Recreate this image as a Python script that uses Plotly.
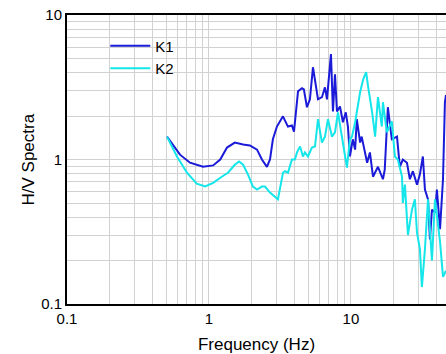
import plotly.graph_objects as go

# K1 (blue) H/V spectral ratio
k1_freq = [0.506, 0.625, 0.735, 0.908, 1.07, 1.20, 1.34, 1.52, 1.74, 1.94, 2.18, 2.36, 2.56, 2.69,
           2.82, 3.01, 3.32, 3.60, 3.84, 3.97, 4.24, 4.52, 4.66, 4.90, 5.14, 5.40, 5.67, 5.86,
           6.25, 6.56, 6.78, 7.23, 7.47, 7.72, 7.97, 8.37, 8.78, 9.20, 9.52, 9.84, 10.3, 10.7,
           11.0, 11.6, 11.9, 13.0, 13.6, 14.3, 15.5, 16.8, 17.3, 18.2, 19.4, 21.1, 22.1, 23.2,
           24.8, 26.0, 27.3, 29.2, 30.6, 32.1, 33.2, 34.9, 36.0, 37.2, 39.1, 40.3, 42.4, 44.5,
           45.9, 46.7]
k1_hv = [1.44, 1.08, 0.95, 0.89, 0.91, 1.00, 1.21, 1.31, 1.27, 1.25, 1.17, 1.00, 0.89, 1.00,
         1.38, 1.69, 1.99, 1.69, 1.72, 1.56, 2.97, 3.11, 3.06, 2.30, 2.61, 4.35, 3.21, 2.61,
         2.70, 3.16, 2.61, 5.36, 2.15, 3.89, 2.15, 2.33, 1.81, 2.12, 1.69, 1.05, 1.38, 1.17,
         1.90, 1.31, 1.44, 0.95, 1.12, 0.76, 0.89, 0.73, 0.85, 2.30, 1.38, 1.44, 0.89, 1.00,
         0.95, 0.73, 0.83, 0.67, 0.79, 1.05, 0.62, 0.53, 0.28, 0.45, 0.43, 0.62, 0.33, 0.73,
         2.49, 2.80]

# K2 (cyan) H/V spectral ratio
k2_freq = [0.506, 0.595, 0.70, 0.82, 0.94, 1.07, 1.23, 1.36, 1.52, 1.63, 1.74, 1.88, 2.04, 2.18,
           2.36, 2.48, 2.69, 2.92, 3.06, 3.32, 3.43, 3.60, 3.84, 4.03, 4.17, 4.38, 4.59, 4.74,
           4.98, 5.31, 5.58, 5.86, 6.25, 6.56, 6.89, 7.35, 7.72, 8.10, 8.64, 9.07, 9.37, 9.84,
           10.17, 10.7, 11.0, 11.6, 12.2, 12.8, 13.2, 14.1, 14.8, 15.5, 16.5, 16.8, 17.9, 19.4,
           20.4, 21.4, 22.9, 23.2, 24.0, 25.2, 26.9, 28.2, 29.2, 30.6, 31.6, 33.2, 34.9, 37.2,
           39.1, 42.4, 44.5, 46.7]
k2_hv = [1.44, 1.05, 0.81, 0.68, 0.65, 0.69, 0.76, 0.81, 0.92, 0.97, 0.92, 0.79, 0.65, 0.62,
         0.65, 0.65, 0.59, 0.55, 0.53, 0.81, 0.83, 0.81, 1.00, 1.00, 1.12, 1.23, 1.05, 1.12,
         1.05, 1.21, 1.23, 1.90, 1.31, 1.44, 1.90, 1.44, 1.54, 2.12, 1.44, 1.00, 0.88, 1.38,
         1.44, 1.81, 2.12, 2.92, 3.59, 4.02, 3.21, 2.12, 1.44, 2.70, 1.69, 2.49, 1.54, 1.84,
         1.05, 1.00, 0.76, 0.50, 0.67, 0.30, 0.45, 0.53, 0.31, 0.24, 0.131, 0.24, 0.53, 0.20,
         0.53, 0.27, 0.154, 0.17]

series_names = ["K1", "K2"]
series_colors = ["#1a1ad8", "#14e6ea"]

x_tick_vals = [0.1, 1, 10]
x_tick_text = ["0.1", "1", "10"]
y_tick_vals = [0.1, 1, 10]
y_tick_text = ["0.1", "1", "10"]

FONT = "Liberation Sans, Arial, Helvetica, sans-serif"

fig = go.Figure()
for name, fx, fy, col in [(series_names[0], k1_freq, k1_hv, series_colors[0]),
                          (series_names[1], k2_freq, k2_hv, series_colors[1])]:
    fig.add_trace(go.Scatter(x=fx, y=fy, mode="lines", name=name,
                             line=dict(color=col, width=2)))

grid_col = "#d2d2d2"
fig.update_xaxes(type="log", range=[-1, 1.6695], automargin=False,
                 tickvals=x_tick_vals, ticktext=x_tick_text, ticklabeloverflow="allow",
                 showgrid=True, gridcolor=grid_col, gridwidth=1,
                 minor=dict(showgrid=True, gridcolor=grid_col, gridwidth=1,
                            dtick="D1", ticks=""),
                 showline=True, linecolor="black", linewidth=2, mirror=True,
                 ticks="", zeroline=False,
                 tickfont=dict(size=15, color="black", family=FONT),
                 title=dict(text="Frequency (Hz)", font=dict(size=17, color="black", family=FONT)))
fig.update_yaxes(type="log", range=[-1, 1], automargin=False,
                 tickvals=y_tick_vals, ticktext=y_tick_text, ticklabeloverflow="allow",
                 showgrid=True, gridcolor=grid_col, gridwidth=1,
                 minor=dict(showgrid=True, gridcolor=grid_col, gridwidth=1,
                            dtick="D1", ticks=""),
                 showline=True, linecolor="black", linewidth=2, mirror=False,
                 ticks="", zeroline=False,
                 tickfont=dict(size=15, color="black", family=FONT))

fig.add_annotation(text="H/V Spectra", xref="paper", yref="paper", x=0, y=0.5,
                   xanchor="center", yanchor="middle", xshift=-39, textangle=-90,
                   showarrow=False, font=dict(size=17, color="black", family=FONT))

fig.update_layout(
    width=446, height=354,
    margin=dict(l=67, r=0, t=15, b=50, autoexpand=False),
    paper_bgcolor="white", plot_bgcolor="white",
    font=dict(family=FONT, color="black"),
    legend=dict(x=0.101, y=0.95, xanchor="left", yanchor="top",
                bgcolor="rgba(0,0,0,0)", font=dict(size=15, color="black", family=FONT),
                itemwidth=40, tracegroupgap=2),
    showlegend=True,
)

# remove the browser's default body margin so the figure fills the window exactly
fig.write_html("out.html", config={"displayModeBar": False},
               post_script="document.body.style.margin='0px';")
